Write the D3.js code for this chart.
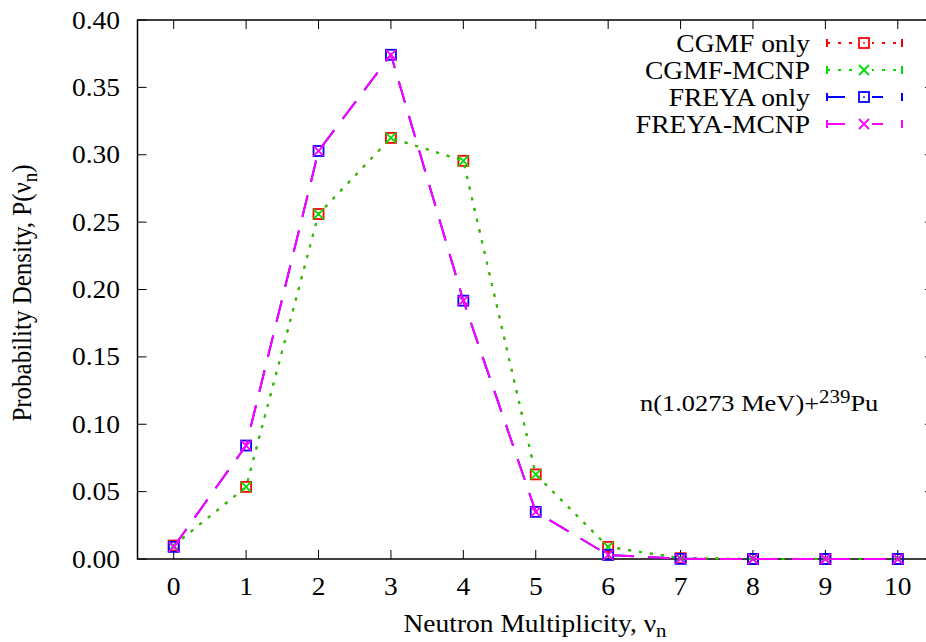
<!DOCTYPE html>
<html><head><meta charset="utf-8">
<script src="https://cdn.jsdelivr.net/npm/d3@7"></script>
<style>body{margin:0;background:#fff}svg{display:block}text{font-family:"Liberation Serif","DejaVu Serif",serif;}</style>
</head><body>
<svg id="c" width="926" height="642"></svg>
<script>
const multiplicity = [0,1,2,3,4,5,6,7,8,9,10];
const cgmfOnly  = [0.010,0.0535,0.256,0.3125,0.2955,0.0628,0.0090,0.0006,0,0,0];
const cgmfMcnp  = [0.010,0.0535,0.256,0.3125,0.2955,0.0628,0.0090,0.0006,0,0,0];
const freyaOnly = [0.009,0.0842,0.3028,0.3742,0.1917,0.0350,0.0030,0.0001,0,0,0];
const freyaMcnp = [0.009,0.0842,0.3028,0.3742,0.1917,0.0350,0.0030,0.0001,0,0,0];
const xTicks = [0,1,2,3,4,5,6,7,8,9,10];
const yTicks = [0,0.05,0.10,0.15,0.20,0.25,0.30,0.35,0.40];
const seriesNames = ["CGMF only","CGMF-MCNP","FREYA only","FREYA-MCNP"];

const series = [
  {name:seriesNames[0], values:cgmfOnly,  color:"#ff0000", dash:"3,8",  marker:"square"},
  {name:seriesNames[1], values:cgmfMcnp,  color:"#00dd00", dash:"3,8",  marker:"x"},
  {name:seriesNames[2], values:freyaOnly, color:"#0000ff", dash:"22,14", marker:"square"},
  {name:seriesNames[3], values:freyaMcnp, color:"#ff00ff", dash:"22,14", marker:"x"}
];

const FS = 25, SX = 1.1;
const svg = d3.select("#c");
const L=137.5, R=934, T=20, B=559;
const x = d3.scaleLinear().domain([-0.5,10.5]).range([L,R]);
const y = d3.scaleLinear().domain([0,0.40]).range([B,T]);

function htext(parent, px, py, anchor, size){
  return parent.append("text").attr("transform",`translate(${px},${py}) scale(${SX},1)`)
    .attr("text-anchor",anchor).attr("font-size",size);
}

svg.append("rect").attr("x",L).attr("y",T).attr("width",R-L).attr("height",B-T)
  .attr("fill","none").attr("stroke","#000").attr("stroke-width",1.5);

const fmtY = d3.format(".2f");
const ax = svg.append("g");
yTicks.forEach(v=>{
  ax.append("line").attr("x1",L).attr("x2",L+9).attr("y1",y(v)).attr("y2",y(v)).attr("stroke","#000");
  ax.append("line").attr("x1",R).attr("x2",R-9).attr("y1",y(v)).attr("y2",y(v)).attr("stroke","#000");
  htext(ax,120,y(v)+8.5,"end",FS).text(fmtY(v));
});
xTicks.forEach(v=>{
  ax.append("line").attr("x1",x(v)).attr("x2",x(v)).attr("y1",B).attr("y2",B-9).attr("stroke","#000");
  ax.append("line").attr("x1",x(v)).attr("x2",x(v)).attr("y1",T).attr("y2",T+9).attr("stroke","#000");
  htext(ax,x(v),595,"middle",FS).text(v);
});

const xl = htext(svg,535,632,"middle",FS);
xl.append("tspan").text("Neutron Multiplicity, ν");
xl.append("tspan").attr("baseline-shift","-25%").attr("font-size",19).text("n");

const yl = svg.append("text").attr("transform",`translate(31,293) rotate(-90) scale(1,${SX})`)
  .attr("text-anchor","middle").attr("font-size",FS);
yl.append("tspan").text("Probability Density, P(ν");
yl.append("tspan").attr("baseline-shift","-30%").attr("font-size",19).text("n");
yl.append("tspan").attr("baseline-shift","0%").text(")");

function drawMarker(g, type, cx, cy, color){
  if(type==="square"){
    g.append("rect").attr("x",cx-5).attr("y",cy-5).attr("width",10).attr("height",10)
      .attr("fill","none").attr("stroke",color).attr("stroke-width",1.8);
    g.append("rect").attr("x",cx-0.8).attr("y",cy-0.8).attr("width",1.6).attr("height",1.6).attr("fill",color);
  } else {
    g.append("path").attr("d",`M${cx-5},${cy-5}L${cx+5},${cy+5}M${cx-5},${cy+5}L${cx+5},${cy-5}`)
      .attr("stroke",color).attr("stroke-width",1.8).attr("fill","none");
  }
}
const line = d3.line().x((d,i)=>x(multiplicity[i])).y(d=>y(d));
series.forEach(s=>{
  const g = svg.append("g");
  g.append("path").datum(s.values).attr("d",line).attr("fill","none")
    .attr("stroke",s.color).attr("stroke-width",2).attr("stroke-dasharray",s.dash);
  s.values.forEach((v,i)=>drawMarker(g,s.marker,x(multiplicity[i]),y(v),s.color));
});

const legY = [43,70,97,124];
series.forEach((s,i)=>{
  const g = svg.append("g");
  const yy = legY[i];
  htext(g,810,yy+8.5,"end",FS).text(s.name);
  const dashL = s.dash==="3,8" ? "3,8" : "18,20";
  g.append("line").attr("x1",827).attr("x2",902).attr("y1",yy).attr("y2",yy)
    .attr("stroke",s.color).attr("stroke-width",2).attr("stroke-dasharray",dashL);
  g.append("line").attr("x1",827).attr("x2",827).attr("y1",yy-4).attr("y2",yy+4).attr("stroke",s.color).attr("stroke-width",2);
  g.append("line").attr("x1",902).attr("x2",902).attr("y1",yy-4).attr("y2",yy+4).attr("stroke",s.color).attr("stroke-width",2);
  g.append("rect").attr("x",856).attr("y",yy-6).attr("width",16).attr("height",12).attr("fill","#fff");
  drawMarker(g,s.marker,864,yy,s.color);
});

const an = htext(svg,640,411,"start",24);
an.append("tspan").text("n(1.0273 MeV)+");
an.append("tspan").attr("baseline-shift","40%").attr("font-size",19).text("239");
an.append("tspan").attr("baseline-shift","0%").text("Pu");
</script>
</body></html>
